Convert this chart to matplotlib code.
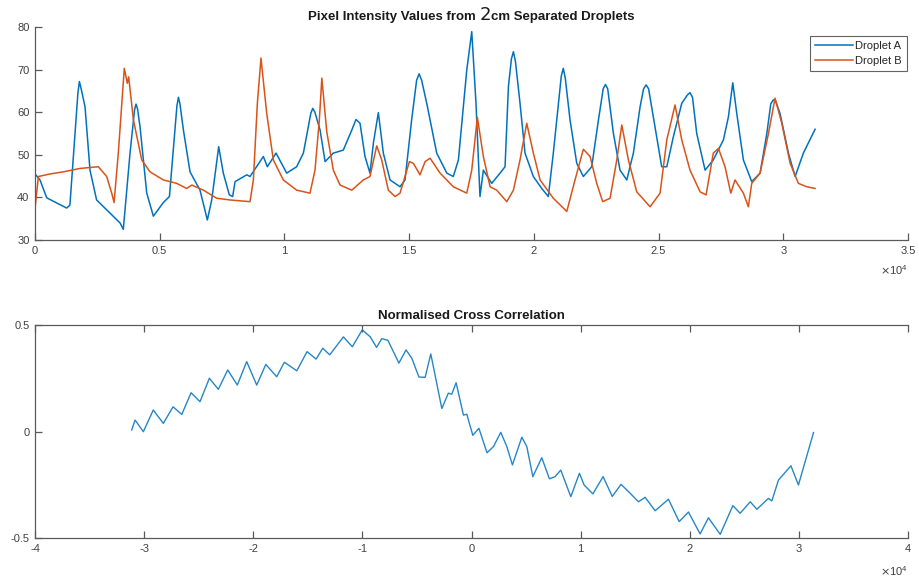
import matplotlib
matplotlib.use("Agg")
import matplotlib.pyplot as plt
from matplotlib.ticker import FixedLocator, FuncFormatter

plt.rcParams['font.family'] = ['Liberation Sans', 'DejaVu Sans']

# Pixel intensity traces (sample index, intensity)
droplet_a_x = [0, 200, 470, 1270, 1400, 1720, 1780, 1850, 2005, 2205, 2470, 3010, 3410, 3540, 3810,
               3990, 4050, 4110, 4210, 4480, 4745, 5145, 5390, 5690, 5750, 5810, 5950, 6215, 6615,
               6910, 7085, 7365, 7550, 7790, 7925, 8020, 8490, 8620, 9155, 9315, 9665, 10090, 10490,
               10760, 11060, 11135, 11220, 11430, 11630, 11960, 12360, 12700, 12870, 13030, 13230,
               13430, 13565, 13765, 13965, 14235, 14635, 14835, 15100, 15300, 15400, 15500, 15705,
               16105, 16510, 16770, 16975, 17310, 17510, 17680, 17840, 17975, 18310, 18645, 18845,
               18980, 19100, 19180, 19260, 19445, 19645, 19980, 20315, 20580, 20780, 21100, 21180,
               21260, 21450, 21720, 21985, 22320, 22590, 22780, 22870, 22960, 23190, 23455, 23725,
               23990, 24260, 24400, 24500, 24600, 24790, 25125, 25330, 25595, 25930, 26150, 26260,
               26360, 26530, 26865, 27195, 27600, 27800, 27975, 28135, 28400, 28735, 29070, 29340,
               29500, 29600, 29700, 29870, 30205, 30475, 30805, 31275]
droplet_a_y = [45.5, 44.1, 39.9, 37.5, 38.2, 64.5, 67.2, 65.5, 61.3, 46.4, 39.4, 36.3, 34.0, 32.5, 50.4,
               60.5, 61.9, 60.8, 56.6, 41.0, 35.6, 38.8, 40.2, 61.5, 63.5, 62.0, 55.8, 46.0, 41.7,
               34.7, 39.4, 51.9, 45.7, 40.6, 40.2, 43.7, 45.3, 44.9, 49.6, 47.2, 50.4, 45.7, 47.2,
               50.4, 59.8, 60.9, 60.0, 55.8, 48.4, 50.4, 51.1, 55.8, 58.3, 57.4, 49.6,
               45.7, 52.7, 59.9, 50.4, 44.1, 42.5, 44.1, 58.2, 67.5, 69.0, 67.5, 62.1,
               50.4, 45.7, 44.9, 48.8, 69.9, 78.9, 62.1, 40.2, 46.4, 43.3, 45.7, 47.2,
               66.0, 72.5, 74.2, 72.0, 62.1, 50.4, 44.9, 42.1, 40.2, 50.4, 68.5, 70.3,
               68.0, 58.2, 48.0, 44.9, 47.2, 58.2, 65.5, 66.5, 65.5, 55.0, 46.4, 44.1,
               50.4, 61.3, 65.5, 66.4, 65.5, 58.9, 47.2, 47.2, 54.3, 62.1, 64.0, 64.6,
               63.5, 55.0, 46.4, 48.8, 53.5, 58.9, 66.9, 59.7, 48.8, 43.7, 45.7, 55.0,
               62.0, 62.9, 62.5, 59.7, 50.4, 44.9, 50.4, 56.0]

droplet_b_x = [0, 135, 600, 1135, 1805, 2540, 2875, 3075, 3170, 3340, 3580, 3700, 3755, 3945, 4280,
               4610, 5145, 5680, 6080, 6285, 6750, 7285, 7820, 8620, 8755, 8915, 9060, 9290, 9555,
               9955, 10490, 11025, 11225, 11400, 11500, 11695, 11960, 12230, 12700, 13165, 13430,
               13700, 13900, 14165, 14435, 14635, 15010, 15170, 15435, 15640, 15840, 16240, 16770,
               17310, 17510, 17735, 17975, 18245, 18510, 18915, 19180, 19445, 19715, 19980, 20250,
               20780, 21320, 21650, 21985, 22255, 22520, 22760, 23055, 23325, 23525, 23790, 24125,
               24660, 25060, 25330, 25660, 25930, 26260, 26665, 26905, 27195, 27400, 27665, 27895,
               28065, 28400, 28600, 28735, 29070, 29405, 29670, 29940, 30275, 30605, 30940, 31275]
droplet_b_y = [37.4, 44.9, 45.5, 46.0, 46.8, 47.2, 44.9, 41.0, 38.8, 50.4, 70.3, 66.8, 68.3, 58.2, 48.8,
               46.0, 44.1, 43.3, 42.1, 42.9, 41.7, 39.8, 39.4, 39.0, 44.1, 62.1, 72.7, 59.7, 48.8,
               44.1, 41.7, 41.0, 46.4, 58.2, 68.0, 55.5, 46.4, 42.9, 41.7, 44.1, 44.9,
               52.1, 48.8, 41.7, 40.2, 41.0, 48.4, 48.0, 45.3, 48.4, 49.2, 45.7, 42.5,
               41.0, 46.4, 58.8, 49.6, 42.5, 41.7, 39.0, 41.7, 48.8, 57.4, 50.4, 44.1,
               39.8, 36.7, 44.1, 51.3, 49.6, 43.3, 39.0, 39.8, 48.8, 57.0, 48.8, 41.3,
               37.8, 41.0, 53.5, 61.7, 53.5, 46.4, 41.3, 40.6, 50.4, 51.5, 47.2, 41.0,
               44.1, 41.0, 37.8, 43.3, 45.7, 55.0, 63.3, 57.4, 48.0, 43.3, 42.5, 42.1]

# Normalised cross correlation (lag in samples, coefficient)
xcorr_lag = [-31140, -30830, -30070, -29160, -28240, -27350, -26550, -25700, -24880, -24020, -23200,
             -22340, -21460, -20600, -19680, -18850, -17850, -17150, -16010, -15070, -14240, -13630,
             -12990, -11740, -10920, -10010, -9290, -8700, -8220, -7660, -6650, -6000, -5470, -4820,
             -4250, -3730, -2720, -2120, -1810, -1410, -740, -430, 120, 680, 1420, 2010, 2680, 3240,
             3750, 4610, 5070, 5620, 6440, 7140, 7660, 8180, 9100, 9890, 10320, 11120, 12060, 12900,
             13700, 14540, 15300, 15910, 16830, 18050, 19030, 19880, 20950, 21710, 22790, 23950,
             24620, 25540, 26150, 27210, 27520, 28130, 29270, 29960, 31340]
xcorr_val = [0.007, 0.054, -0.001, 0.101, 0.038, 0.116, 0.080, 0.182, 0.140, 0.250, 0.198,
             0.289, 0.218, 0.328, 0.218, 0.315, 0.257, 0.325, 0.285, 0.375, 0.340, 0.391,
             0.360, 0.444, 0.398, 0.477, 0.445, 0.395, 0.436, 0.428, 0.321, 0.383, 0.344, 0.256,
             0.254, 0.364, 0.108, 0.180, 0.175, 0.229, 0.077, 0.081, -0.018, 0.015, -0.100, -0.071,
             -0.004, -0.071, -0.157, -0.027, -0.071, -0.212, -0.123, -0.222, -0.212, -0.181, -0.306,
             -0.196, -0.251, -0.293, -0.212, -0.305, -0.248, -0.290, -0.330, -0.309, -0.372, -0.318,
             -0.423, -0.378, -0.481, -0.405, -0.483, -0.348, -0.384, -0.330, -0.365, -0.314, -0.326,
             -0.228, -0.161, -0.251, -0.005]

top_xticks = [0, 5000, 10000, 15000, 20000, 25000, 30000, 35000]
top_yticks = [30, 40, 50, 60, 70, 80]
bot_xticks = [-40000, -30000, -20000, -10000, 0, 10000, 20000, 30000, 40000]
bot_yticks = [-0.5, 0, 0.5]

BLUE = '#0072BD'
ORANGE = '#D95319'
AXCOL = '#5a5a5a'
TXTCOL = '#404040'

fig = plt.figure(figsize=(9.2, 5.81), dpi=100)
W, H = 920, 581


def fig_rect(x0, y0, x1, y1):
    return [x0 / W, 1 - y1 / H, (x1 - x0) / W, (y1 - y0) / H]


def plain(v):
    return f"{v:g}".replace('\u2212', '-')


def style_axes(ax, box_top):
    ax.spines['right'].set_visible(False)
    ax.spines['top'].set_visible(box_top)
    for side in ('left', 'bottom', 'top'):
        ax.spines[side].set_color(AXCOL)
        ax.spines[side].set_linewidth(0.9)
    ax.tick_params(direction='in', length=5, width=0.9, color=AXCOL,
                   labelcolor=TXTCOL, labelsize=8, top=box_top, right=False,
                   labeltop=False, pad=4)
    ax.xaxis.set_major_formatter(FuncFormatter(lambda v, p: plain(v / 1e4)))
    ax.yaxis.set_major_formatter(FuncFormatter(lambda v, p: plain(v)))


ax1 = fig.add_axes(fig_rect(35, 27, 908, 240))
ax1.plot(droplet_a_x, droplet_a_y, color=BLUE, lw=1.1, label='Droplet A')
ax1.plot(droplet_b_x, droplet_b_y, color=ORANGE, lw=1.1, label='Droplet B')
ax1.set_xlim(0, 35000)
ax1.set_ylim(30, 80)
ax1.xaxis.set_major_locator(FixedLocator(top_xticks))
ax1.yaxis.set_major_locator(FixedLocator(top_yticks))
style_axes(ax1, box_top=False)
ax1.text(1.0, -(270 - 240) / 213, r'$\times\mathregular{10^4}$', transform=ax1.transAxes,
         ha='right', va='center', fontsize=8, color=TXTCOL)
leg = ax1.legend(loc='upper right', bbox_to_anchor=(0.9985, 0.96), fontsize=8,
                 frameon=True, fancybox=False, handlelength=3.4, handletextpad=0.2,
                 borderpad=0.45, labelspacing=0.5, borderaxespad=0)
leg.get_frame().set_edgecolor('#3c3c3c')
leg.get_frame().set_linewidth(0.8)
for t in leg.get_texts():
    t.set_color('#262626')

ax2 = fig.add_axes(fig_rect(35, 325, 908, 538))
ax2.plot(xcorr_lag, xcorr_val, color=BLUE, lw=1.0, alpha=0.85)
ax2.set_xlim(-40000, 40000)
ax2.set_ylim(-0.5, 0.5)
ax2.xaxis.set_major_locator(FixedLocator(bot_xticks))
ax2.yaxis.set_major_locator(FixedLocator(bot_yticks))
style_axes(ax2, box_top=True)
ax2.text(1.0, -(571 - 538) / 213, r'$\times\mathregular{10^4}$', transform=ax2.transAxes,
         ha='right', va='center', fontsize=8, color=TXTCOL)

ax2.set_title('Normalised Cross Correlation', fontsize=9.5, fontweight='bold',
              color='#1a1a1a', pad=4)

# Title of the upper panel, composed of three runs so the numeral can use its own style
pieces = [('Pixel Intensity Values from ', dict(fontsize=9.5, fontweight='bold')),
          ('2', dict(fontsize=13, fontweight='normal', family=['DejaVu Sans'])),
          ('cm Separated Droplets', dict(fontsize=9.5, fontweight='bold'))]
fig.canvas.draw()
renderer = fig.canvas.get_renderer()
texts = []
for s, kw in pieces:
    t = fig.text(0, 1 - 20 / H, s, ha='left', va='baseline', color='#1a1a1a', **kw)
    texts.append(t)
widths = [t.get_window_extent(renderer).width for t in texts]
total = sum(widths)
x = (471.5 - total / 2)
for t, w in zip(texts, widths):
    t.set_x(x / W)
    x += w

fig.savefig('out.png', dpi=100)
